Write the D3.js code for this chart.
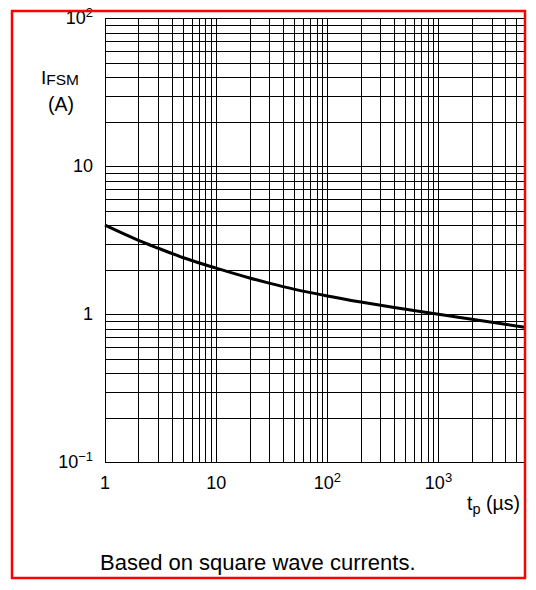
<!DOCTYPE html>
<html>
<head>
<meta charset="utf-8">
<script src="https://cdn.jsdelivr.net/npm/d3@7"></script>
<style>
  html, body { margin: 0; padding: 0; background: #fff; }
  svg { display: block; font-family: "Liberation Sans", Arial, Helvetica, sans-serif; }
</style>
</head>
<body>
<svg id="chart" width="536" height="590"></svg>
<script>
// ---- data ----
const tp   = [1, 2, 3, 5, 10, 20, 30, 50, 100, 200, 400, 1000, 2000, 6000];   // µs
const ifsm = [4.0, 3.16, 2.80, 2.42, 2.05, 1.76, 1.625, 1.48, 1.33, 1.21, 1.11, 1.0, 0.925, 0.817]; // A
const xTickVals = [1, 10, 100, 1000];
const xTickLabels = [["1", ""], ["10", ""], ["10", "2"], ["10", "3"]];
const yTickVals = [100, 10, 1, 0.1];
const yTickLabels = [["10", "2"], ["10", ""], ["1", ""], ["10", "\u22121"]];
const xDomain = [1, 6000];
const yDomain = [0.1, 100];

// ---- layout ----
const svg = d3.select("#chart");
const pLeft = 105, pRight = 525, pTop = 18.3, pBottom = 462.3;

const x = d3.scaleLog().domain(xDomain).range([pLeft, pRight]);
const y = d3.scaleLog().domain(yDomain).range([pBottom, pTop]);

function gridVals(domain) {
  const vals = [];
  for (let e = Math.floor(Math.log10(domain[0])); e <= Math.ceil(Math.log10(domain[1])); e++) {
    for (let m = 1; m <= 9; m++) {
      const v = m * Math.pow(10, e);
      if (v >= domain[0] * 0.9999 && v <= domain[1] * 1.0001) vals.push(v);
    }
  }
  return vals;
}
const crisp = v => Math.round(v) + 0.5;

const grid = svg.append("g").attr("stroke", "#000").attr("stroke-width", 1).attr("shape-rendering", "crispEdges");
grid.selectAll("line.v").data(gridVals(xDomain)).join("line")
  .attr("class", "v")
  .attr("x1", d => crisp(x(d))).attr("x2", d => crisp(x(d)))
  .attr("y1", pTop).attr("y2", pBottom);
grid.selectAll("line.h").data(gridVals(yDomain)).join("line")
  .attr("class", "h")
  .attr("y1", d => crisp(y(d))).attr("y2", d => crisp(y(d)))
  .attr("x1", pLeft).attr("x2", pRight);

// curve
const line = d3.line()
  .x((d, i) => x(tp[i]))
  .y(d => y(d))
  .curve(d3.curveMonotoneX);
svg.append("path")
  .datum(ifsm)
  .attr("d", line)
  .attr("fill", "none")
  .attr("stroke", "#000")
  .attr("stroke-width", 3);

// tick labels
const fs = 18;
const xt = svg.append("g").attr("font-size", fs).attr("fill", "#000").attr("text-anchor", "middle");
xTickVals.forEach((v, i) => {
  const t = xt.append("text").attr("x", x(v)).attr("y", 489);
  t.append("tspan").text(xTickLabels[i][0]);
  if (xTickLabels[i][1]) t.append("tspan").attr("dy", -7.5).attr("font-size", 13).text(xTickLabels[i][1]);
});
const yt = svg.append("g").attr("font-size", fs).attr("fill", "#000").attr("text-anchor", "end");
yTickVals.forEach((v, i) => {
  const t = yt.append("text").attr("x", 93).attr("y", y(v) + 6);
  t.append("tspan").text(yTickLabels[i][0]);
  if (yTickLabels[i][1]) t.append("tspan").attr("dy", -7.5).attr("font-size", 13).text(yTickLabels[i][1]);
});

// axis titles
const yTitle = svg.append("text").attr("x", 41).attr("y", 84).attr("font-size", 19);
yTitle.append("tspan").text("I");
yTitle.append("tspan").attr("dy", 1).attr("font-size", 15.5).text("FSM");
svg.append("text").attr("x", 61).attr("y", 111).attr("text-anchor", "middle").attr("font-size", 19.5).text("(A)");

const xTitle = svg.append("text").attr("x", 520).attr("y", 510).attr("text-anchor", "end").attr("font-size", 19.5);
xTitle.append("tspan").text("t");
xTitle.append("tspan").attr("dy", 4).attr("font-size", 14.5).text("p");
xTitle.append("tspan").attr("dy", -4).text(" (\u00b5s)");

// note
svg.append("text").attr("x", 100).attr("y", 570).attr("font-size", 22).text("Based on square wave currents.");

// red frame
svg.append("rect").attr("x", 12).attr("y", 11).attr("width", 513).attr("height", 567)
  .attr("fill", "none").attr("stroke", "#ff0000").attr("stroke-width", 2.5);
</script>
</body>
</html>
